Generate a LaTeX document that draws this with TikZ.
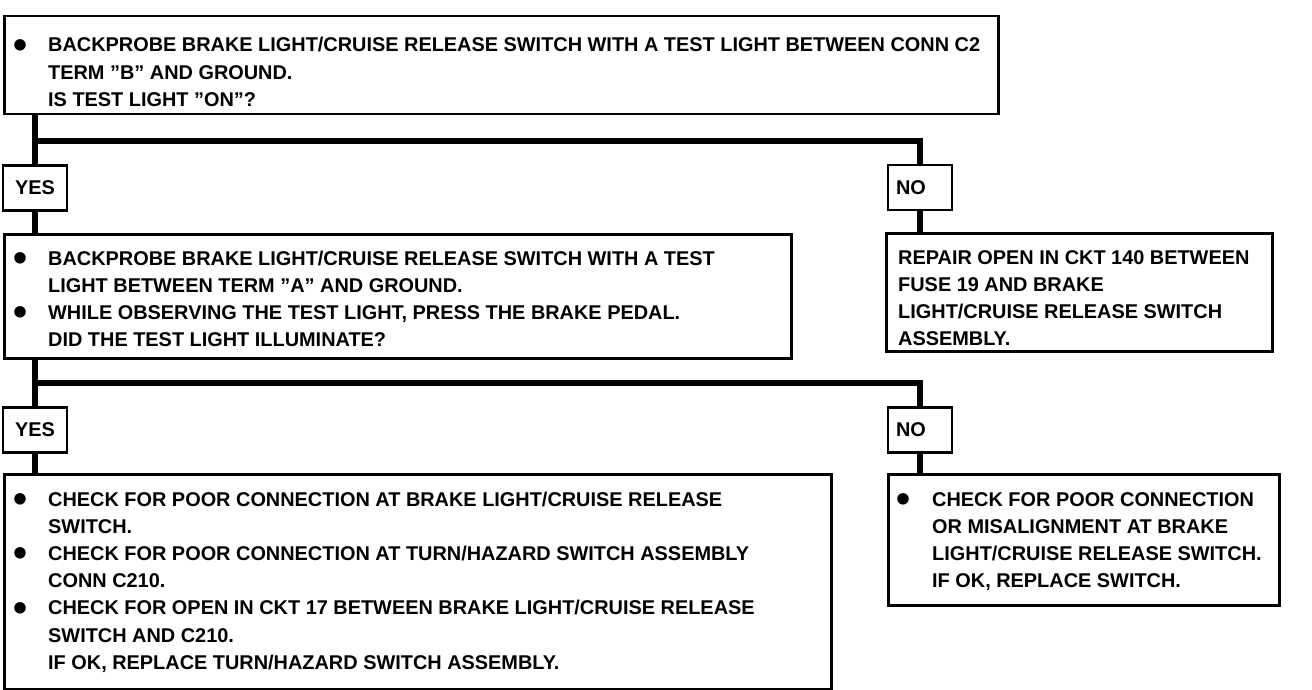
\documentclass[tikz,border=0pt]{standalone}
\usepackage{fontspec}
\setmainfont{Liberation Sans}
\usepackage{array}
\usetikzlibrary{backgrounds}
\newcommand{\blt}{\smash{\raisebox{-6.5pt}{\fontsize{40}{40}\selectfont\textbullet}}}
\begin{document}
\begin{tikzpicture}[x=1pt,y=-1pt,
  box/.style={draw,line width=2.5pt,fill=white,anchor=north west,inner sep=0pt},
  ans/.style={draw,line width=2.5pt,fill=white,inner sep=0pt,minimum width=64pt,minimum height=45pt,font=\fontsize{19.9}{27}\bfseries},
  txt/.style={anchor=base west,inner sep=0pt,font=\fontsize{19.9}{27.2}\bfseries,align=left},
  conn/.style={line width=6.5pt,line join=miter}]
\useasboundingbox (0,0) rectangle (1312,690);

% boxes
\node[box,minimum width=994pt,minimum height=98pt] (A) at (3,15) {};
\node[box,minimum width=787pt,minimum height=124pt] (B) at (3,233) {};
\node[box,minimum width=386pt,minimum height=118pt] (R) at (885,232) {};
\node[box,minimum width=827pt,minimum height=215pt] (C) at (3,473) {};
\node[box,minimum width=391pt,minimum height=131pt] (D) at (887,473) {};

% answer boxes
\node[ans] (y1) at (35,188) {YES};
\node[ans,text width=48pt,align=left] (n1) at (920,187.5) {NO};
\node[ans] (y2) at (35,430) {YES};
\node[ans,text width=48pt,align=left] (n2) at (920,430) {NO};

% junctions
\coordinate (j1) at (35,141);
\coordinate (j2) at (35,383);

% connectors
\begin{scope}[on background layer]
\fill[white] (0,0) rectangle (1312,690);
\draw[conn] (j1 |- A.south) -- (y1.north);
\draw[conn] (y1.south) -- (y1.south |- B.north);
\draw[conn] ([xshift=-3pt]j1) -| (n1.north);
\draw[conn] (n1.south) -- (n1.south |- R.north);
\draw[conn] (j2 |- B.south) -- (y2.north);
\draw[conn] (y2.south) -- (y2.south |- C.north);
\draw[conn] ([xshift=-3pt]j2) -| (n2.north);
\draw[conn] (n2.south) -- (n2.south |- D.north);
\end{scope}

% texts
\node[txt] (tA) at (13,52) {\begin{tabular}[t]{@{}p{35pt}@{}l@{}}
\blt & BACKPROBE BRAKE LIGHT/CRUISE RELEASE SWITCH WITH A TEST LIGHT BETWEEN CONN C2\\
 & TERM ”B” AND GROUND.\\
 & IS TEST LIGHT ”ON”?
\end{tabular}};
\node[txt] (tB) at (13,265) {\begin{tabular}[t]{@{}p{35pt}@{}l@{}}
\blt & BACKPROBE BRAKE LIGHT/CRUISE RELEASE SWITCH WITH A TEST\\
 & LIGHT BETWEEN TERM ”A” AND GROUND.\\
\blt & WHILE OBSERVING THE TEST LIGHT, PRESS THE BRAKE PEDAL.\\
 & DID THE TEST LIGHT ILLUMINATE?
\end{tabular}};
\node[txt] (tR) at (898,264) {\begin{tabular}[t]{@{}l@{}}
REPAIR OPEN IN CKT 140 BETWEEN\\
FUSE 19 AND BRAKE\\
LIGHT/CRUISE RELEASE SWITCH\\
ASSEMBLY.
\end{tabular}};
\node[txt] (tC) at (13,506) {\begin{tabular}[t]{@{}p{35pt}@{}l@{}}
\blt & CHECK FOR POOR CONNECTION AT BRAKE LIGHT/CRUISE RELEASE\\
 & SWITCH.\\
\blt & CHECK FOR POOR CONNECTION AT TURN/HAZARD SWITCH ASSEMBLY\\
 & CONN C210.\\
\blt & CHECK FOR OPEN IN CKT 17 BETWEEN BRAKE LIGHT/CRUISE RELEASE\\
 & SWITCH AND C210.\\
 & IF OK, REPLACE TURN/HAZARD SWITCH ASSEMBLY.
\end{tabular}};
\node[txt] (tD) at (896,506) {\begin{tabular}[t]{@{}p{36pt}@{}l@{}}
\blt & CHECK FOR POOR CONNECTION\\
 & OR MISALIGNMENT AT BRAKE\\
 & LIGHT/CRUISE RELEASE SWITCH.\\
 & IF OK, REPLACE SWITCH.
\end{tabular}};
\end{tikzpicture}
\end{document}
